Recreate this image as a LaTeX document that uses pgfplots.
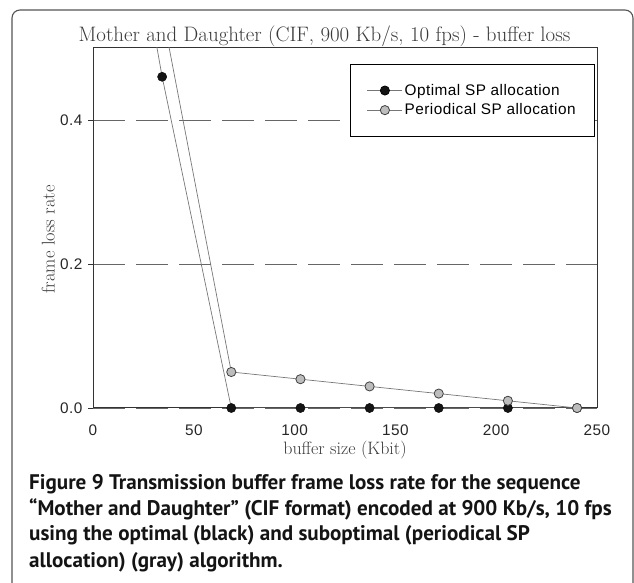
\documentclass[border=0pt]{standalone}
\usepackage{fontspec}
\usepackage{pgfplots}
\pgfplotsset{compat=1.18}
\newfontfamily\arialf{Liberation Sans}[LetterSpace=3]
\newfontfamily\capf{PT Sans}
\definecolor{txtgray}{HTML}{3A3A3A}
\definecolor{linegray}{HTML}{777777}
\definecolor{dotgray}{HTML}{BDBDBD}
\definecolor{framegray}{HTML}{555555}

\begin{document}
\begin{tikzpicture}
\path[use as bounding box] (0bp,0bp) rectangle (634bp,583bp);
% outer frame of the figure box, cut by the page edge
\begin{scope}
  \clip (0bp,0bp) rectangle (634bp,583bp);
  \draw[framegray, line width=1.1bp, rounded corners=8bp] (12bp,-30bp) rectangle (633bp,573bp);
\end{scope}

\begin{axis}[
    at={(93bp,175bp)}, anchor=south west,
    scale only axis,
    width=504bp, height=360bp,
    xmin=0, xmax=250,
    ymin=0, ymax=0.5,
    xtick={0,50,100,150,200,250},
    ytick={0,0.2,0.4},
    yticklabel style={xshift=-2bp, /pgf/number format/.cd, fixed, fixed zerofill, precision=1},
    /pgf/number format/assume math mode=true,
    tick label style={font=\arialf\fontsize{15.4}{15.4}\selectfont, text=black!85},
    xtick style={draw=none},
    ytick pos=left,
    tick align=outside,
    major tick length=5bp,
    ytick style={black!80, line width=0.8bp},
    xticklabel style={yshift=-8bp},
    axis line style={black!80, line width=1bp},
    ymajorgrids,
    grid style={black!60, line width=0.8bp, dash pattern=on 32bp off 11bp},
    clip mode=individual,
    xlabel={buffer size (Kbit)},
    ylabel={frame loss rate},
    xlabel style={at={(axis description cs:0.5,-0.128)}, anchor=base,
        font=\fontsize{18}{18}\selectfont\addfontfeatures{LetterSpace=5}, text=txtgray},
    ylabel style={at={(axis description cs:-0.089,0.469)}, anchor=center,
        font=\fontsize{18.5}{18.5}\selectfont\addfontfeatures{LetterSpace=4}, text=txtgray},
    legend style={at={(0.996,0.956)}, anchor=north east, draw=black, line width=0.8bp,
        fill=white, font=\arialf\fontsize{15.4}{15.4}\selectfont,
        inner xsep=17bp, inner ysep=18bp, row sep=3bp,
        /tikz/every even column/.append style={column sep=4bp}},
    legend cell align=left,
    legend image code/.code={\draw[mark repeat=2, mark phase=2]
        plot coordinates {(0bp,0bp) (17.5bp,0bp) (35bp,0bp)};},
]
% lines (first points lie above the plotted range and are cut)
\addplot[linegray, line width=0.7bp, forget plot] coordinates {
    (0,1.0) (34.3,0.46) (68.6,0) (102.9,0) (137.2,0) (171.5,0) (205.8,0) (240.1,0)
};
\addplot[linegray, line width=0.7bp, forget plot] coordinates {
    (0,1.0) (34.3,0.551) (68.6,0.05) (102.9,0.04) (137.2,0.03) (171.5,0.02) (205.8,0.01) (240.1,0)
};
% marks inside the range
\addplot[only marks, mark=*, mark size=4.6bp, mark options={fill=black!92, draw=black}, forget plot]
    coordinates {
    (34.3,0.46) (68.6,0) (102.9,0) (137.2,0) (171.5,0) (205.8,0) (240.1,0)
};
\addplot[only marks, mark=*, mark size=4.6bp, mark options={fill=dotgray, draw=black!75, line width=0.8bp}, forget plot]
    coordinates {
    (68.6,0.05) (102.9,0.04) (137.2,0.03) (171.5,0.02) (205.8,0.01) (240.1,0)
};
\addlegendimage{linegray, line width=0.7bp, mark=*, mark size=4.6bp, mark options={fill=black!92, draw=black}}
\addlegendentry{Optimal SP allocation}
\addlegendimage{linegray, line width=0.7bp, mark=*, mark size=4.6bp, mark options={fill=dotgray, draw=black!75, line width=0.8bp}}
\addlegendentry{Periodical SP allocation}
\end{axis}

% chart title
\node[anchor=base, text=txtgray, font=\fontsize{21}{21}\selectfont\addfontfeatures{LetterSpace=8.5}]
    at (324.5bp,541bp) {Mother and Daughter (CIF, 900 Kb/s, 10 fps) - buffer loss};

% caption
\begin{scope}[every node/.style={anchor=base west, inner sep=0pt,
    font=\capf\bfseries\fontsize{21.2}{24}\selectfont, text=black!92}]
  \node at (29bp,93bp) {Figure 9 Transmission buffer frame loss rate for the sequence};
  \node at (29bp,67bp) {“Mother and Daughter” (CIF format) encoded at 900 Kb/s, 10 fps};
  \node at (29bp,42bp) {using the optimal (black) and suboptimal (periodical SP};
  \node at (29bp,16bp) {allocation) (gray) algorithm.};
\end{scope}
\end{tikzpicture}
\end{document}
